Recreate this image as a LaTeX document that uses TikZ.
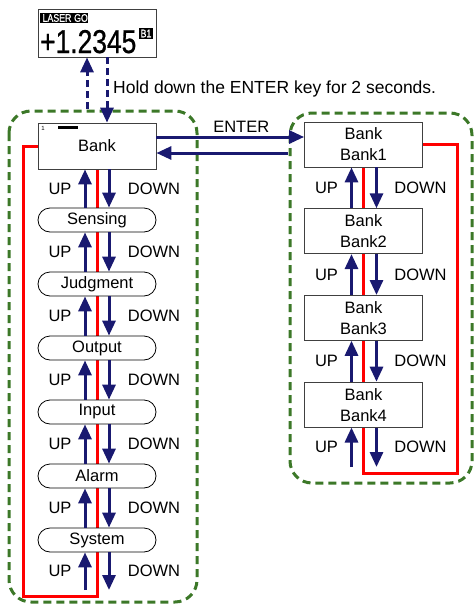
\documentclass[tikz,border=0pt]{standalone}
\usepackage{fontspec}
\setmainfont{Liberation Sans}
\newfontfamily\narrowfont[FakeStretch=0.8, FakeBold=0.8]{Liberation Sans}
\usetikzlibrary{arrows.meta, positioning, calc, backgrounds, shapes.misc}
\definecolor{navy}{RGB}{25,25,112}
\definecolor{grpgreen}{RGB}{60,120,40}
\definecolor{loopred}{RGB}{255,0,0}

\begin{document}
\begin{tikzpicture}[x=1pt, y=-1pt,
  font=\fontsize{16.5}{19}\selectfont,
  dispbox/.style={draw=black!75, line width=0.8pt, fill=white, minimum width=118pt, minimum height=48pt, inner sep=0pt},
  bankbox/.style={draw=black!75, line width=0.8pt, fill=white, minimum width=118pt, minimum height=45pt, inner sep=0pt, align=center, font=\fontsize{16.5}{21}\selectfont},
  menubox/.style={draw=black, line width=0.8pt, fill=white, rounded rectangle, minimum width=118pt, minimum height=24pt, inner sep=0pt},
  flow/.style={navy, line width=3pt, -{Triangle[length=15pt, width=13pt]}},
  hold/.style={flow, dash pattern=on 7pt off 4pt},
  redloop/.style={loopred, line width=3pt},
  grpframe/.style={grpgreen, line width=3pt, dash pattern=on 8pt off 5pt, rounded corners=22pt},
  tag/.style={fill=black, text=white, font=\narrowfont\fontsize{11}{11}\selectfont, inner sep=0.3pt}
]
  \useasboundingbox (0,0) rectangle (475,605);

  % display
  \node[dispbox] (display) at (97,33) {};
  \node[tag, minimum width=34pt, minimum height=10pt] (laser) at (57,18) {LASER};
  \node[tag, minimum width=11pt, minimum height=10pt] (go) at (81,18) {GO};
  \node[anchor=base west, inner sep=0pt, font=\narrowfont\fontsize{33}{33}\selectfont] (value) at (40,53) {+1.2345};
  \node[tag, minimum width=14pt, minimum height=11pt] (bno) at (146,33.5) {B1};

  % setting menu
  \node[bankbox, minimum height=46pt] (bank) at (97,146) {Bank};
  \node[font=\fontsize{6}{6}\selectfont, inner sep=0pt] (bankno) at (43,128) {1};
  \fill (58,126) rectangle (78,129);
  \foreach \name [count=\i] in {Sensing,Judgment,Output,Input,Alarm,System}
    \node[menubox] (m\i) at (97,{156+64*\i}) {\name};
  \coordinate (lend) at (97,590);

  \foreach \a/\b in {bank/m1, m1/m2, m2/m3, m3/m4, m4/m5, m5/m6} {
    \draw[flow] ([xshift=-12pt]\b.north) -- ([xshift=-12pt]\a.south);
    \draw[flow] ([xshift=12pt]\a.south) -- ([xshift=12pt]\b.north);
    \path ($(\a.south)!0.5!(\b.north)$) node[xshift=-37pt] {UP} node[xshift=57pt] {DOWN};
  }
  \draw[flow] ([xshift=-12pt]lend) -- ([xshift=-12pt]m6.south);
  \draw[flow] ([xshift=12pt]m6.south) -- ([xshift=12pt]lend);
  \path ($(m6.south)!0.5!(lend)$) node[xshift=-37pt] {UP} node[xshift=57pt] {DOWN};

  % bank list
  \foreach \i in {1,...,4}
    \node[bankbox] (b\i) at (363.5,{57.8+86.7*\i}) {Bank\\Bank\i};
  \coordinate (rend) at (363.5,467);

  \foreach \a/\b in {b1/b2, b2/b3, b3/b4} {
    \draw[flow] ([xshift=-12pt]\b.north) -- ([xshift=-12pt]\a.south);
    \draw[flow] ([xshift=13pt]\a.south) -- ([xshift=13pt]\b.north);
    \path ($(\a.south)!0.5!(\b.north)$) node[xshift=-37pt] {UP} node[xshift=57pt] {DOWN};
  }
  \draw[flow] ([xshift=-12pt]rend) -- ([xshift=-12pt]b4.south);
  \draw[flow] ([xshift=13pt]b4.south) -- ([xshift=13pt]rend);
  \path ($(b4.south)!0.5!(rend)$) node[xshift=-37pt] {UP} node[xshift=57pt] {DOWN};

  % ENTER
  \draw[flow] ([yshift=9pt]bank.east) -- ([yshift=9pt]bank.east -| b1.west)
    node[midway, above, xshift=11pt, text=black] {ENTER};
  \coordinate (back) at (288,153);
  \draw[flow] (back) -- (back -| bank.east);

  % hold down
  \coordinate (holdup) at (87,109);
  \draw[hold] (holdup) -- (holdup |- display.south);
  \draw[hold] ([xshift=10pt]display.south) -- ([xshift=10pt]display.south |- bank.north);
  \node[anchor=west, inner sep=0pt, font=\fontsize{17.5}{20}\selectfont] (holdtxt) at (113,89) {Hold down the ENTER key for 2 seconds.};

  % loops and groups
  \coordinate (lcorner) at (23,596);
  \coordinate (rcorner) at (457,473);
  \begin{scope}[on background layer]
    \draw[redloop] (bank.west) -| (lcorner) -| (bank.south);
    \draw[redloop] (b1.east) -| (rcorner) -| (b1.south);
    \draw[grpframe] (9,111) rectangle (197,602);
    \draw[grpframe] (290,113) rectangle (472,483);
  \end{scope}
\end{tikzpicture}
\end{document}
